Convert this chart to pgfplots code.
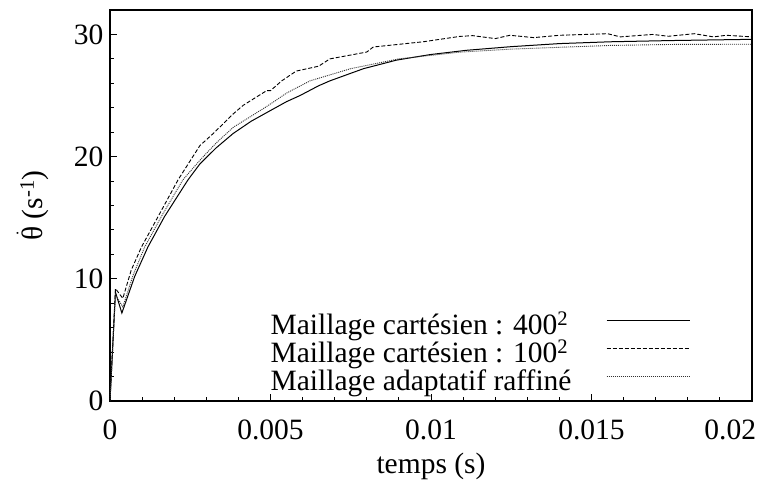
\documentclass[border=0pt]{standalone}
\usepackage{fontspec}
\setmainfont{Liberation Serif}
\usepackage{pgfplots}
\pgfplotsset{compat=1.18}
\pgfplotstableread{
t v
0 0
0.00017 8.9
0.00037 7.2
0.00077 10.2
0.00118 12.6
0.0017 15.1
0.00243 18.1
0.0028 19.4
0.0033 20.7
0.00384 21.9
0.0044 22.9
0.00488 23.6
0.0055 24.5
0.00592 25.0
0.0065 25.8
0.00685 26.2
0.0079 27.2
0.00893 27.9
0.00997 28.35
0.0111 28.7
0.0125 29.0
0.014 29.25
0.0156 29.4
0.0175 29.5
0.02 29.6
}\solid
\pgfplotstableread{
t v
0 0
0.00017 9.2
0.0004 8.4
0.00066 10.7
0.00098 12.6
0.0015 15.1
0.00212 18.1
0.0028 20.9
0.00322 21.9
0.00384 23.5
0.00415 24.2
0.00488 25.4
0.005 25.4
0.00535 26.2
0.0058 27.0
0.0065 27.4
0.00685 28.0
0.008 28.56
0.0082 28.97
0.00976 29.4
0.0109 29.84
0.0113 29.9
0.012 29.66
0.01246 29.93
0.0132 29.74
0.014 29.93
0.0155 30.06
0.0159 29.8
0.0169 30.0
0.0174 29.85
0.0182 30.06
0.0188 29.8
0.0192 29.93
0.02 29.8
}\dashed
\pgfplotstableread{
t v
0 0
0.00017 8.7
0.0004 7.7
0.00072 10.3
0.00108 12.6
0.0016 15.1
0.00227 18.1
0.0028 19.7
0.0033 21.1
0.00384 22.4
0.00488 24.1
0.0055 25.2
0.00623 26.2
0.0075 27.2
0.009 28.0
0.0109 28.55
0.0125 28.8
0.0156 29.1
0.0175 29.18
0.02 29.2
}\dotted
\begin{document}
\begin{tikzpicture}[font=\fontsize{29.5bp}{34bp}\selectfont]
\begin{axis}[name=ax, scale only axis, width=642bp, height=391bp,
  every axis/.append style={font=\fontsize{29.5bp}{34bp}\selectfont},
  xmin=0, xmax=0.02, ymin=0, ymax=32,
  xtick={0,0.005,0.01,0.015,0.02},
  xticklabels={0,0.005,0.01,0.015,\makebox[8bp][r]{0.02}},
  ytick={0,10,20,30}, yticklabels={0,10,20,30},
  minor x tick num=4, minor y tick num=4,
  tick align=inside, tick pos=left,
  major tick length=7bp, minor tick length=4bp,
  tick style={black, line width=0.9bp},
  axis line style={line width=1.3bp},
  scaled x ticks=false,
  xticklabel style={yshift=-15bp},
  yticklabel style={xshift=-3bp},
  xlabel={temps (s)},
  ylabel={$\dot{\mbox{θ}}$ (s\textsuperscript{-1})},
  xlabel style={at={(axis description cs:0.5,-0.166)}, anchor=center},
  ylabel style={at={(axis description cs:-0.12,0.5)}, anchor=center},
  legend plot pos=right, legend cell align=left,
  legend image code/.code={\draw[#1] (0bp,6bp) -- (83bp,6bp);},
  legend style={at={(axis description cs:0.2445,0.231)}, anchor=north west,
    draw=none, fill=none, column sep=34bp,
    nodes={text height=21bp, text depth=6bp, inner sep=0.5bp}},
]
\addplot[black, line width=1bp] table[x=t,y=v]{\solid};
\addlegendentry{Maillage cartésien : 400\textsuperscript{2}}
\addplot[black, line width=0.9bp, dash pattern=on 4bp off 2bp] table[x=t,y=v]{\dashed};
\addlegendentry{Maillage cartésien : 100\textsuperscript{2}}
\addplot[black!80, line width=0.9bp, dash pattern=on 1bp off 1bp] table[x=t,y=v]{\dotted};
\addlegendentry{Maillage adaptatif raffiné}
\end{axis}
\pgfresetboundingbox
\path[use as bounding box] ([shift={(-110bp,-89bp)}]ax.south west) rectangle ([shift={(7bp,10bp)}]ax.north east);
\end{tikzpicture}
\end{document}
